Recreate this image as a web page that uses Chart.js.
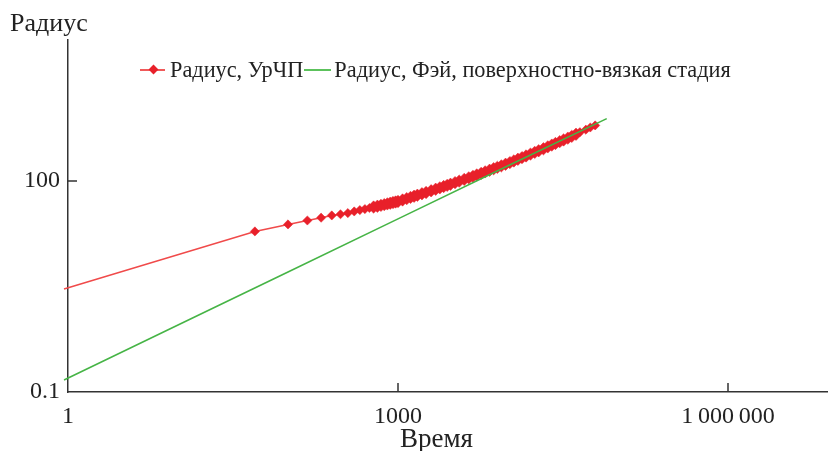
<!DOCTYPE html>
<html>
<head>
<meta charset="utf-8">
<script src="https://cdn.jsdelivr.net/npm/chart.js@4.4.1/dist/chart.umd.min.js"></script>
<style>
  html, body { margin: 0; padding: 0; overflow: hidden; background: #fff; }
  body { width: 828px; height: 451px; position: relative; font-family: 'Liberation Serif', 'DejaVu Serif', serif; color: #222; }
  #wrap { position: absolute; left: 0; top: 0; width: 850px; height: 451px; }
  .title { position: absolute; font-size: 26px; line-height: 1; white-space: nowrap; }
  #legend { position: absolute; left: 140px; top: 59px; font-size: 22.3px; line-height: 1; display: flex; align-items: center; white-space: nowrap; }
  .sw { display: inline-block; position: relative; height: 1.6px; }
  .sw.red { width: 25px; background: #f05a5a; margin-right: 5px; }
  .sw.red i { position: absolute; left: 10px; top: -3.2px; width: 7px; height: 7px; background: #e8202a; transform: rotate(45deg); }
  .sw.green { width: 27px; background: #5cc25c; margin: 0 3px 0 1px; }
</style>
</head>
<body>
<div id="wrap"><canvas id="chart"></canvas></div>
<div class="title" style="left:10px; top:10px">Радиус</div>
<div class="title" style="left:400px; top:425px; font-size:27px">Время</div>
<div id="legend"><span class="sw red"><i></i></span>Радиус, УрЧП<span class="sw green"></span>Радиус, Фэй, поверхностно-вязкая стадия</div>
<script>
// Оси
const xTicks = [1, 1000, 1000000]
const xTickLabels = ['1', '1000', '1\u2009000\u2009000']
const yTicks = [0.1, 100]
const yTickLabels = ['0.1', '100']

// Радиус, УрЧП
const redTime = [0.92, 50, 100, 150, 200, 250, 300, 350, 400, 450, 500, 550, 600, 650, 700, 750, 800, 850, 900, 950, 1000,
  1100, 1200, 1300, 1400, 1500, 1650, 1800, 2000, 2200, 2400, 2600, 2800, 3000, 3300, 3600, 4000, 4400, 4800,
  5200, 5700, 6200, 6800, 7400, 8000, 8700, 9500, 10400, 11300, 12300, 13400, 14600, 16000, 17500, 19000,
  21000, 23000, 25000, 27000, 29500, 32000, 35000, 38000, 41500, 45000, 51000, 56000, 62000]
const redRadius = [2.9, 19.1, 24.0, 27.3, 29.9, 32.2, 33.5, 34.8, 36.7, 38.4, 39.7, 41.1, 42.4, 43.6, 44.8, 45.9, 47.0, 48.1, 49.1, 50.0, 50.9,
  53.4, 55.8, 58.1, 60.3, 62.4, 65.4, 68.3, 72.1, 75.9, 79.4, 82.8, 86.2, 89.3, 94.2, 98.8, 104.7, 110.2, 115.7,
  121.1, 127.6, 134.0, 141.3, 148.6, 155.3, 163.0, 171.8, 181.5, 191.4, 202.2, 213.3, 225.4, 239.3, 253.5, 266.7,
  285.1, 303.4, 321.4, 338.8, 359.7, 380.2, 403.6, 427.6, 458, 490, 532, 572, 612]

// Радиус, Фэй
const fayTime = [0.92, 10, 100, 1000, 10000, 79000]
const fayRadius = [0.148, 0.894, 5.07, 28.8, 163.6, 764]

function toPoints(xs, ys) {
  return xs.map((x, i) => ({ x: x, y: ys[i] }))
}

// размер маркера: в плотной части точки сливаются в полосу
function markerSize(c) {
  if (c.dataIndex === 0) return 0
  const t = c.raw.x
  if (t < 600 || t > 44000) return 4.6
  return 6.2
}

// Засечки внутрь графика
const innerTicks = {
  id: 'innerTicks',
  afterDraw(chart) {
    const ctx = chart.ctx
    const xs = chart.scales.x
    const ys = chart.scales.y
    const area = chart.chartArea
    ctx.save()
    ctx.strokeStyle = '#333'
    ctx.lineWidth = 1.5
    ctx.beginPath()
    xTicks.slice(1).forEach((v) => {
      const px = Math.round(xs.getPixelForValue(v))
      ctx.moveTo(px, area.bottom)
      ctx.lineTo(px, area.bottom - 9)
    })
    yTicks.slice(1).forEach((v) => {
      const py = Math.round(ys.getPixelForValue(v))
      ctx.moveTo(area.left, py)
      ctx.lineTo(area.left + 9, py)
    })
    ctx.stroke()
    ctx.restore()
  },
}

const tickFont = { family: "'Liberation Serif', serif", size: 24 }

new Chart(document.getElementById('chart'), {
  type: 'line',
  data: {
    datasets: [
      {
        label: 'Радиус, УрЧП',
        data: toPoints(redTime, redRadius),
        borderColor: '#f04a4a',
        borderWidth: 1.5,
        backgroundColor: '#e8202a',
        pointBackgroundColor: '#e8202a',
        pointBorderColor: '#e8202a',
        pointBorderWidth: 0.5,
        pointStyle: 'rectRot',
        pointRadius: markerSize,
        clip: { left: 6, top: 0, right: 0, bottom: 0 },
        order: 1,
      },
      {
        label: 'Радиус, Фэй, поверхностно-вязкая стадия',
        data: toPoints(fayTime, fayRadius),
        borderColor: '#46b446',
        borderWidth: 1.6,
        pointRadius: 0,
        clip: { left: 6, top: 0, right: 0, bottom: 0 },
        order: 0,
      },
    ],
  },
  options: {
    responsive: true,
    maintainAspectRatio: false,
    animation: false,
    layout: { padding: { top: 40, right: 12, left: 0, bottom: 0 } },
    plugins: { legend: { display: false }, tooltip: { enabled: false } },
    scales: {
      x: {
        type: 'logarithmic',
        min: 1,
        max: 10000000,
        grid: { display: false, drawTicks: false },
        border: { display: true, color: '#333', width: 1.5 },
        afterBuildTicks: (s) => { s.ticks = xTicks.map((v) => ({ value: v })) },
        afterFit: (s) => { s.height = 59 },
        ticks: {
          autoSkip: false,
          maxRotation: 0,
          padding: 10,
          color: '#222',
          font: tickFont,
          callback: (v, i) => xTickLabels[i],
        },
      },
      y: {
        type: 'logarithmic',
        min: 0.1,
        max: 10000,
        grid: { display: false, drawTicks: false },
        border: { display: true, color: '#333', width: 1.5 },
        afterBuildTicks: (s) => { s.ticks = yTicks.map((v) => ({ value: v })) },
        afterFit: (s) => { s.width = 68 },
        ticks: {
          autoSkip: false,
          padding: 8,
          color: '#222',
          font: tickFont,
          callback: (v, i) => yTickLabels[i],
        },
      },
    },
  },
  plugins: [innerTicks],
})
</script>
</body>
</html>
